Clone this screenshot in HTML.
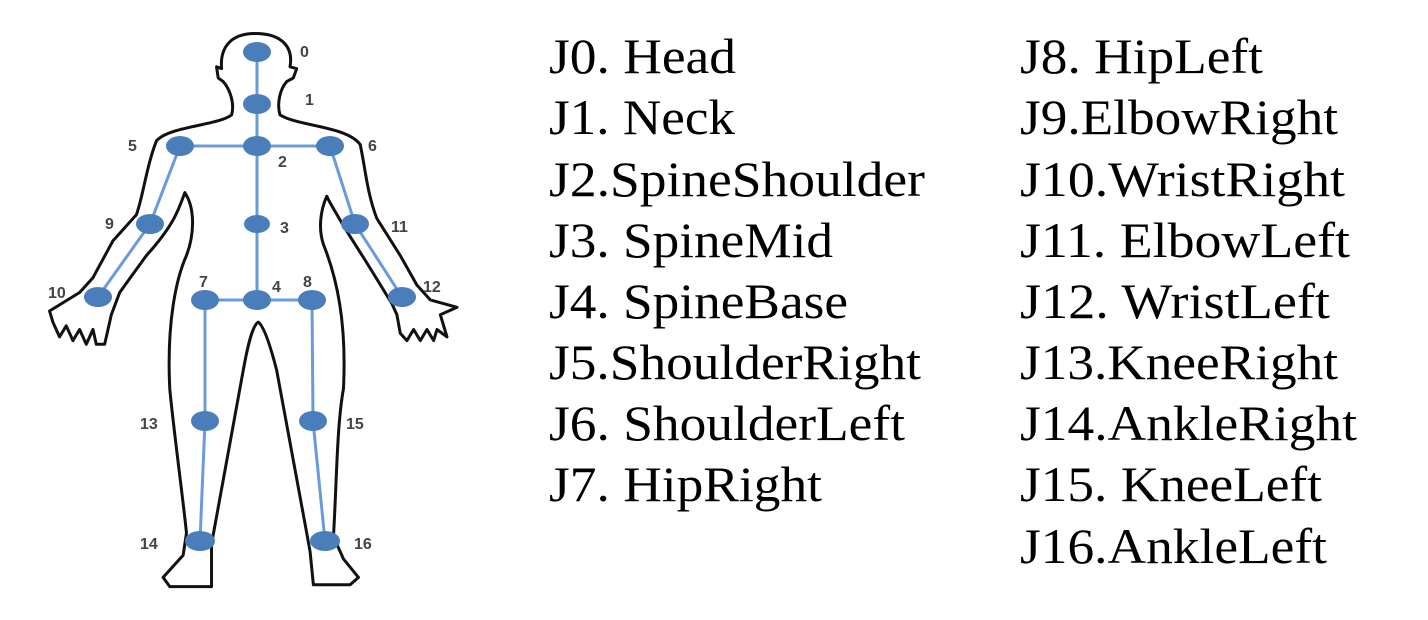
<!DOCTYPE html>
<html><head><meta charset="utf-8"><style>
html,body{margin:0;padding:0;background:#fff;}
svg{display:block;}
</style></head><body>
<svg width="1428" height="620" viewBox="0 0 1428 620" xmlns="http://www.w3.org/2000/svg">
<rect width="1428" height="620" fill="#fff"/>
<g transform="matrix(0.334,0,0,0.37,29.5,18.7)">
<path fill="none" stroke="#111" stroke-width="3" vector-effect="non-scaling-stroke" stroke-linejoin="round" d="
M675,40 C760,40 790,80 780,130 L800,135 L790,160 L770,170 C750,190 740,230 750,260
C800,290 950,290 990,340 C1005,400 1010,470 1040,540 L1110,640 L1160,720 L1200,760 L1280,780
L1230,800 L1250,860 L1220,840 L1210,870 L1190,840 L1170,870 L1150,840 L1130,870 L1110,850 L1100,800 L1085,770
L1010,660 L940,560 C915,520 900,500 890,480 C870,520 865,570 880,610 C920,700 950,820 940,1000
C920,1100 920,1250 910,1400 L940,1460 L985,1510 L960,1530 L850,1530 L840,1440 L830,1390
C800,1250 770,1100 740,950 C720,880 700,830 685,820 C665,830 650,900 640,950 C610,1100 580,1250 545,1420
L545,1535 L420,1535 L400,1510 L460,1450 L470,1390 C460,1300 430,1100 420,1000 C410,820 440,700 470,640
C495,580 495,510 465,470 C445,520 430,560 350,640 L270,740 L245,800 L225,880
L200,880 L190,840 L170,880 L150,840 L130,870 L110,830 L90,860 L70,820 L60,790 L150,740 L190,700
L250,600 L320,530 C340,480 350,400 380,330 C420,290 560,290 605,260 C615,230 600,190 580,170
L565,160 L560,130 L575,135 C570,80 600,40 675,40 Z"/>
</g>
<g stroke="#6a9bd8" stroke-width="3" fill="none">
<line x1="257" y1="52" x2="257" y2="300"/>
<line x1="180" y1="146" x2="330" y2="146"/>
<line x1="180" y1="146" x2="150" y2="224"/>
<line x1="150" y1="224" x2="98" y2="297"/>
<line x1="330" y1="146" x2="355" y2="224"/>
<line x1="355" y1="224" x2="402" y2="297"/>
<line x1="205" y1="300" x2="312" y2="300"/>
<line x1="205" y1="300" x2="205" y2="421"/>
<line x1="205" y1="421" x2="200" y2="541"/>
<line x1="312" y1="300" x2="313" y2="421"/>
<line x1="313" y1="421" x2="325" y2="541"/>
</g>
<g fill="#4a7ebb">
<ellipse cx="257" cy="52" rx="14" ry="10"/>
<ellipse cx="257" cy="104" rx="14" ry="10"/>
<ellipse cx="257" cy="146" rx="14" ry="10"/>
<ellipse cx="180" cy="146" rx="14" ry="10"/>
<ellipse cx="330" cy="146" rx="14" ry="10"/>
<ellipse cx="257" cy="224" rx="13" ry="9"/>
<ellipse cx="150" cy="224" rx="14" ry="10"/>
<ellipse cx="355" cy="224" rx="14" ry="10"/>
<ellipse cx="98" cy="297" rx="14" ry="10"/>
<ellipse cx="402" cy="297" rx="14" ry="10"/>
<ellipse cx="205" cy="300" rx="14" ry="10"/>
<ellipse cx="257" cy="300" rx="14" ry="10"/>
<ellipse cx="312" cy="300" rx="14" ry="10"/>
<ellipse cx="205" cy="421" rx="14" ry="10"/>
<ellipse cx="313" cy="421" rx="14" ry="10"/>
<ellipse cx="200" cy="541" rx="15" ry="10"/>
<ellipse cx="325" cy="541" rx="15" ry="10"/>
</g>
<g font-family="Liberation Sans, sans-serif" font-weight="bold" font-size="16" fill="#444">
<text x="300" y="57">0</text>
<text x="305" y="105">1</text>
<text x="278" y="167">2</text>
<text x="280" y="233">3</text>
<text x="272" y="292">4</text>
<text x="128" y="151">5</text>
<text x="368" y="151">6</text>
<text x="199" y="287">7</text>
<text x="303" y="287">8</text>
<text x="105" y="229">9</text>
<text x="391" y="232">11</text>
<text x="48" y="298">10</text>
<text x="423" y="292">12</text>
<text x="140" y="429">13</text>
<text x="346" y="429">15</text>
<text x="140" y="549">14</text>
<text x="354" y="549">16</text>
</g>
<g font-family="Liberation Serif, serif" font-size="50" fill="#000">
<text x="549" y="73" textLength="187" lengthAdjust="spacingAndGlyphs">J0. Head</text>
<text x="549" y="134" textLength="186" lengthAdjust="spacingAndGlyphs">J1. Neck</text>
<text x="549" y="196" textLength="376" lengthAdjust="spacingAndGlyphs">J2.SpineShoulder</text>
<text x="549" y="257" textLength="284" lengthAdjust="spacingAndGlyphs">J3. SpineMid</text>
<text x="549" y="318" textLength="299" lengthAdjust="spacingAndGlyphs">J4. SpineBase</text>
<text x="549" y="379" textLength="372" lengthAdjust="spacingAndGlyphs">J5.ShoulderRight</text>
<text x="549" y="440" textLength="356" lengthAdjust="spacingAndGlyphs">J6. ShoulderLeft</text>
<text x="549" y="501" textLength="273" lengthAdjust="spacingAndGlyphs">J7. HipRight</text>
<text x="1020" y="73" textLength="243" lengthAdjust="spacingAndGlyphs">J8. HipLeft</text>
<text x="1020" y="134" textLength="318" lengthAdjust="spacingAndGlyphs">J9.ElbowRight</text>
<text x="1020" y="196" textLength="325" lengthAdjust="spacingAndGlyphs">J10.WristRight</text>
<text x="1020" y="257" textLength="330" lengthAdjust="spacingAndGlyphs">J11. ElbowLeft</text>
<text x="1020" y="318" textLength="310" lengthAdjust="spacingAndGlyphs">J12. WristLeft</text>
<text x="1020" y="379" textLength="318" lengthAdjust="spacingAndGlyphs">J13.KneeRight</text>
<text x="1020" y="440" textLength="337" lengthAdjust="spacingAndGlyphs">J14.AnkleRight</text>
<text x="1020" y="501" textLength="302" lengthAdjust="spacingAndGlyphs">J15. KneeLeft</text>
<text x="1020" y="563" textLength="307" lengthAdjust="spacingAndGlyphs">J16.AnkleLeft</text>
</g>
</svg>
</body></html>
